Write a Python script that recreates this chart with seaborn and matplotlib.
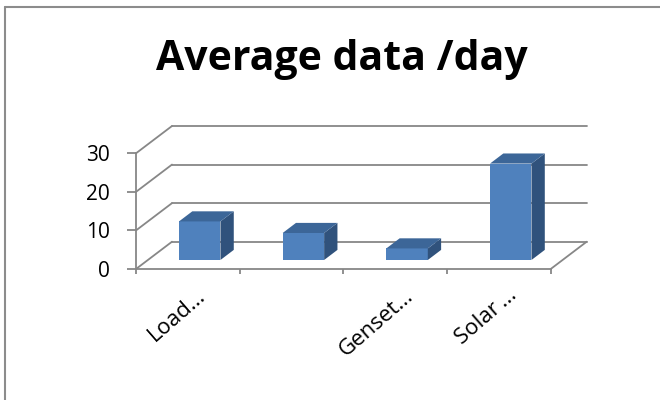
import numpy as np
import matplotlib
matplotlib.use("Agg")
import matplotlib.pyplot as plt
import seaborn as sns
import pandas as pd
from matplotlib.transforms import ScaledTranslation, IdentityTransform
from matplotlib.patches import Polygon
from matplotlib.lines import Line2D

# ---- data ----
categories = ["Load…", "", "Genset…", "Solar\u2009…"]
values = [10, 7, 3, 25]
y_ticks = [0, 10, 20, 30]
title = "Average data /day"

# ---- style ----
FRONT = "#4F81BD"
TOP = "#3C6698"
SIDE = "#30527C"
GRID = "#878787"

sns.set_theme(style="white")
plt.rcParams["font.family"] = ["Open Sans", "DejaVu Sans"]

fig = plt.figure(figsize=(6.6, 4.0), dpi=100)
fig.patch.set_facecolor("white")
ax = fig.add_axes([136 / 660, 131 / 400, 414.7 / 660, 115.7 / 400])
ax.set_facecolor("none")

df = pd.DataFrame({"category": categories, "value": values})
sns.barplot(data=df, x="category", y="value", order=categories, color=FRONT,
            saturation=1, width=0.4, errorbar=None, ax=ax, zorder=3,
            linewidth=0)

ax.set_xlim(-0.5, len(categories) - 0.5)
ax.set_ylim(y_ticks[0], y_ticks[-1])
ax.set_xlabel("")
ax.set_ylabel("")
for s in ["top", "right"]:
    ax.spines[s].set_visible(False)
for s in ["left", "bottom"]:
    ax.spines[s].set_color(GRID)
    ax.spines[s].set_linewidth(1.3)

ax.set_yticks(y_ticks)
ax.tick_params(axis="y", length=6.7, width=1.3, color=GRID, pad=12,
               labelsize=15, labelcolor="black", left=True)
bounds = np.arange(-0.5, len(categories), 1.0)
ax.set_xticks(bounds, labels=[""] * len(bounds))
ax.tick_params(axis="x", length=3.6, width=1.3, color=GRID, bottom=True)

# ---- pseudo 3-D geometry ----
DX, DY = 36.0, 27.3     # pixel shift for full depth
T0, T1 = 0.33, 0.70     # bar depth span

def P(x, v, t):
    px, py = ax.transData.transform((x, v))
    return (px + t * DX, py + t * DY)

ident = IdentityTransform()
x_lo, x_hi = -0.5, len(categories) - 0.5
for v in y_ticks:
    a, b = P(x_lo, v, 1), P(x_hi, v, 1)
    ax.add_line(Line2D([a[0], b[0]], [a[1], b[1]], color=GRID, lw=1.3,
                       transform=ident, clip_on=False, zorder=1))
    c = P(x_lo, v, 0)
    ax.add_line(Line2D([c[0], a[0]], [c[1], a[1]], color=GRID, lw=1.3,
                       transform=ident, clip_on=False, zorder=1))
a, b = P(x_hi, 0, 0), P(x_hi, 0, 1)
ax.add_line(Line2D([a[0], b[0]], [a[1], b[1]], color=GRID, lw=1.3,
                   transform=ident, clip_on=False, zorder=1))

shift = ScaledTranslation(T0 * DX / 100, T0 * DY / 100, fig.dpi_scale_trans)
for patch in ax.patches:
    x0 = patch.get_x()
    w = patch.get_width()
    h = patch.get_height()
    x1 = x0 + w
    patch.set_transform(ax.transData + shift)
    patch.set_clip_on(False)
    side = [P(x1, 0, T0), P(x1, 0, T1), P(x1, h, T1), P(x1, h, T0)]
    top = [P(x0, h, T0), P(x1, h, T0), P(x1, h, T1), P(x0, h, T1)]
    ax.add_patch(Polygon(side, closed=True, facecolor=SIDE, edgecolor="none",
                         transform=ident, clip_on=False, zorder=3))
    ax.add_patch(Polygon(top, closed=True, facecolor=TOP, edgecolor="none",
                         transform=ident, clip_on=False, zorder=3))

# category labels
lab_off = ScaledTranslation(0.19, -0.28, fig.dpi_scale_trans)
for i, lab in enumerate(categories):
    ax.text(i, 0, lab, rotation=41, ha="right", va="baseline",
            rotation_mode="anchor", fontsize=16, color="black",
            transform=ax.transData + lab_off)

# title
fig.text(341.5 / 660, 330 / 400, title, ha="center", va="baseline",
         fontsize=29.5, fontweight="bold", color="black")

# chart frame (top and left edges visible)
fig.add_artist(Line2D([5 / 660, 5 / 660], [0, 393 / 400], color="#8c8c8c",
                      lw=1.5, transform=fig.transFigure))
fig.add_artist(Line2D([5 / 660, 1], [393 / 400, 393 / 400], color="#8c8c8c",
                      lw=1.5, transform=fig.transFigure))

fig.savefig("out.png", dpi=100, facecolor="white")
